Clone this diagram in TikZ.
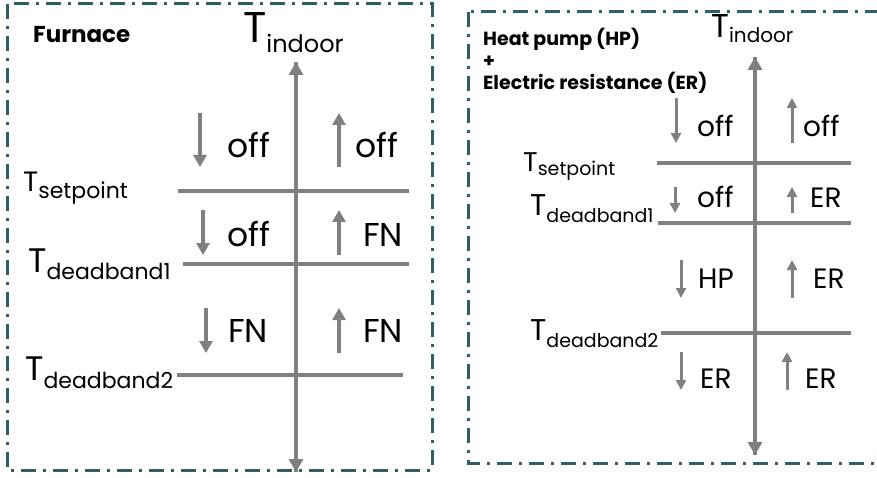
\documentclass[tikz,border=0pt]{standalone}
\usepackage{fontspec}
\setmainfont{Poppins}
\usetikzlibrary{arrows.meta}
\definecolor{framegreen}{HTML}{2F5F63}
\definecolor{axisgray}{HTML}{808080}
% T with a subscript: T size, subscript size, drop, subscript text
\newcommand{\tlabel}[4]{{\fontsize{#1}{#1}\selectfont T}\raisebox{-#3pt}{\fontsize{#2}{#2}\selectfont #4}}

\begin{document}
\begin{tikzpicture}[
        x=1pt, y=-1pt,
        frame/.style={draw=framegreen, line width=3pt,
            dash pattern=on 15pt off 7pt on 3pt off 7pt},
        axis/.style={axisgray, line width=4pt,
            -{Triangle[length=13pt,width=14pt]}},
        level/.style={axisgray, line width=4pt},
        bigtrend/.style={axisgray, line width=4pt,
            -{Triangle[length=12pt,width=13pt]}},
        smalltrend/.style={axisgray, line width=3pt,
            -{Triangle[length=10pt,width=10pt]}},
        heading/.style={inner sep=0pt, font=\bfseries\fontsize{23}{23}\selectfont},
        bigstate/.style={anchor=base west, inner sep=0pt,
            font=\fontsize{33}{33}\selectfont},
        smallstate/.style={anchor=base west, inner sep=0pt,
            font=\fontsize{28}{28}\selectfont},
        tname/.style={anchor=base west, inner sep=0pt}
    ]
    \useasboundingbox (0,0) rectangle (877,478);

    % frames
    \draw[frame] (7,4) rectangle (432,470);
    \begin{scope}
        \clip (0,0) rectangle (877,478);
        \draw[frame] (468,12) rectangle (895,463);
    \end{scope}

    % ---- furnace ----
    \node[heading, anchor=base west] (furnace) at (33,43) {Furnace};

    \coordinate (fbot) at (296,472);
    \coordinate (ftop) at (296,62);
    \draw[axis] (fbot) -- (ftop);
    \draw[axis] (ftop) -- (fbot);

    \coordinate (fsp-l) at (178,191);  \coordinate (fsp-r) at (409,191);
    \coordinate (fdb1-l) at (183,264); \coordinate (fdb1-r) at (409,264);
    \coordinate (fdb2-l) at (177,375); \coordinate (fdb2-r) at (403,375);
    \draw[level] (fsp-l) -- (fsp-r);
    \draw[level] (fdb1-l) -- (fdb1-r);
    \draw[level] (fdb2-l) -- (fdb2-r);

    \node[tname] (findoor) at (243,43) {\tlabel{43}{24}{10}{indoor}};
    \node[tname] (fsp) at (23,192) {\tlabel{28}{22}{7}{setpoint}};
    \node[tname] (fdb1) at (28,272) {\tlabel{34}{22}{7}{deadband1}};
    \node[tname] (fdb2) at (25,380) {\tlabel{34}{22}{8}{deadband2}};

    % trends
    \coordinate (fd1a) at (200,113); \coordinate (fd1b) at (200,167);
    \coordinate (fd2a) at (203,210); \coordinate (fd2b) at (203,255);
    \coordinate (fd3a) at (206,308); \coordinate (fd3b) at (206,353);
    \coordinate (fu1a) at (339,167); \coordinate (fu1b) at (339,113);
    \coordinate (fu2a) at (339,255); \coordinate (fu2b) at (339,210);
    \coordinate (fu3a) at (339,353); \coordinate (fu3b) at (339,308);
    \draw[bigtrend] (fd1a) -- (fd1b);
    \draw[bigtrend] (fd2a) -- (fd2b);
    \draw[bigtrend] (fd3a) -- (fd3b);
    \draw[bigtrend] (fu1a) -- (fu1b);
    \draw[bigtrend] (fu2a) -- (fu2b);
    \draw[bigtrend] (fu3a) -- (fu3b);

    \node[bigstate] (fs1d) at (227,158) {off};
    \node[bigstate] (fs1u) at (355,158) {off};
    \node[bigstate] (fs2d) at (227,247) {off};
    \node[bigstate] (fs2u) at (363,247) {FN};
    \node[bigstate] (fs3d) at (228,342) {FN};
    \node[bigstate] (fs3u) at (363,342) {FN};

    % ---- heat pump + electric resistance ----
    \node[heading, anchor=north west, align=left,
        font=\bfseries\fontsize{19}{22}\selectfont] (hpheading) at (483,28)
        {Heat pump (HP)\\+\\Electric resistance (ER)};

    \coordinate (hbot) at (755,455);
    \coordinate (htop) at (755,57);
    \draw[axis] (hbot) -- (htop);
    \draw[axis] (htop) -- (hbot);

    \coordinate (hsp-l) at (657,163);  \coordinate (hsp-r) at (851,163);
    \coordinate (hdb1-l) at (658,223); \coordinate (hdb1-r) at (851,223);
    \coordinate (hdb2-l) at (661,333); \coordinate (hdb2-r) at (851,333);
    \draw[level] (hsp-l) -- (hsp-r);
    \draw[level] (hdb1-l) -- (hdb1-r);
    \draw[level] (hdb2-l) -- (hdb2-r);

    \node[tname] (hindoor) at (711,38) {\tlabel{33}{20}{5}{indoor}};
    \node[tname] (hsp) at (523,172) {\tlabel{27}{19}{4}{setpoint}};
    \node[tname] (hdb1) at (530,215) {\tlabel{30}{19}{7}{deadband1}};
    \node[tname] (hdb2) at (530,340) {\tlabel{30}{19}{7}{deadband2}};

    % trends
    \coordinate (hd1a) at (676,98);  \coordinate (hd1b) at (676,143);
    \coordinate (hd2a) at (675,187); \coordinate (hd2b) at (675,213);
    \coordinate (hd3a) at (681,260); \coordinate (hd3b) at (681,298);
    \coordinate (hd4a) at (681,352); \coordinate (hd4b) at (681,390);
    \coordinate (hu1a) at (792,143); \coordinate (hu1b) at (792,98);
    \coordinate (hu2a) at (792,213); \coordinate (hu2b) at (792,187);
    \coordinate (hu3a) at (792,298); \coordinate (hu3b) at (792,260);
    \coordinate (hu4a) at (787,390); \coordinate (hu4b) at (787,352);
    \foreach \n in {1,...,4} {
        \draw[smalltrend] (hd\n a) -- (hd\n b);
        \draw[smalltrend] (hu\n a) -- (hu\n b);
    }

    \node[smallstate] (hs1d) at (697,137) {off};
    \node[smallstate] (hs1u) at (803,137) {off};
    \node[smallstate] (hs2d) at (697,208) {off};
    \node[smallstate] (hs2u) at (810,208) {ER};
    \node[smallstate] (hs3d) at (698,288) {HP};
    \node[smallstate] (hs3u) at (813,288) {ER};
    \node[smallstate] (hs4d) at (700,388) {ER};
    \node[smallstate] (hs4u) at (805,388) {ER};
\end{tikzpicture}
\end{document}
